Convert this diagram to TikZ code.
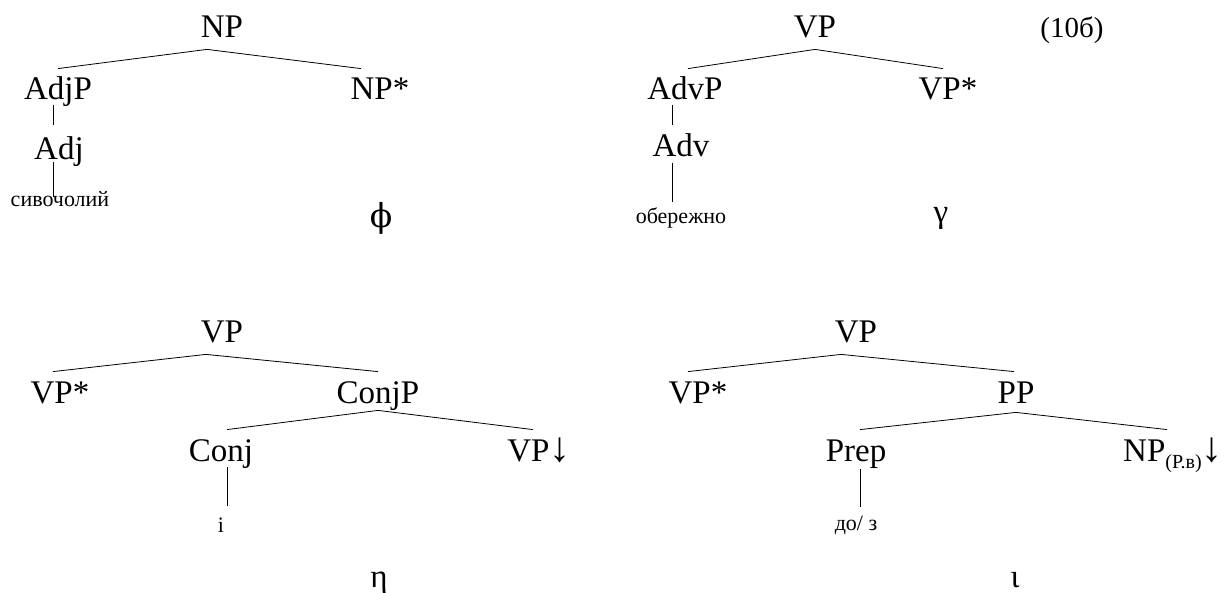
\documentclass[tikz,border=0pt]{standalone}
\usepackage{fontspec}
\setmainfont{Liberation Serif}
\newfontfamily\symserif{DejaVu Serif}
\usetikzlibrary{positioning}

\newcommand{\foot}{{\fontsize{42}{42}\selectfont ↓}}
\tikzset{
  cat/.style={anchor=base, inner sep=0pt, text height=31pt, text depth=11pt, font=\fontsize{33}{36}\selectfont},
  word/.style={anchor=base, inner sep=0pt, font=\fontsize{22}{24}\selectfont},
  greek/.style={inner sep=0pt, font=\fontsize{33}{36}\selectfont},
  exnum/.style={anchor=base, inner sep=0pt, font=\fontsize{29}{32}\selectfont},
}

\begin{document}
\begin{tikzpicture}[x=1pt, y=-1pt, line width=0.8pt]
\useasboundingbox (0,0) rectangle (1229,593);
% phi: NP adjunction
\node[cat] (np1)    at (222,38)  {NP};
\node[cat] (adjp)   at (58,100)  {AdjP};
\node[cat] (npstar) at (380,100) {NP*};
\node[cat] (adj)    at (59,160)  {Adj};
\node[word] (w1)    at (60,207)  {сивочолий};
\node[greek] (phi)  at (381,218) {\symserif ϕ};
\draw ([xshift=-15pt]np1.south) -- (adjp.north);
\draw ([xshift=-15pt]np1.south) -- ([xshift=-19pt]npstar.north);
\draw ([xshift=-5pt,yshift=-5pt]adjp.base) -- ([xshift=-6pt,yshift=35pt]adj.base);
\draw ([xshift=-6pt,yshift=-2pt]adj.base) -- ([xshift=-7pt,yshift=10pt]w1.base);
% gamma: VP adjunction
\node[exnum] (ex)    at (1072,38) {(10б)};
\node[cat] (vp2)     at (815,38)  {VP};
\node[cat] (advp)    at (685,100) {AdvP};
\node[cat] (vpstar2) at (948,100) {VP*};
\node[cat] (adv)     at (681,157) {Adv};
\node[word] (w2)     at (681,224) {обережно};
\node[greek] (gam)   at (941,218) {γ};
\draw (vp2.south) -- ([xshift=3pt]advp.north);
\draw (vp2.south) -- ([xshift=-5pt]vpstar2.north);
\draw ([xshift=-13pt,yshift=-5pt]advp.base) -- ([xshift=-9pt,yshift=32pt]adv.base);
\draw ([xshift=-9pt,yshift=-6pt]adv.base) -- ([xshift=-9pt,yshift=22pt]w2.base);
% eta: coordination
\node[cat] (vp3)     at (222,343) {VP};
\node[cat] (vpstar3) at (60,403)  {VP*};
\node[cat] (conjp)   at (378,403) {ConjP};
\node[cat] (conj)    at (221,461) {Conj};
\node[cat] (vpdown)  at (539,461) {VP\foot};
\node[word] (w3)     at (221,532) {і};
\node[greek] (eta)   at (379,583) {η};
\draw ([xshift=-16pt]vp3.south) -- ([xshift=-7pt]vpstar3.north);
\draw ([xshift=-16pt]vp3.south) -- (conjp.north);
\draw ([yshift=4pt]conjp.south) -- ([xshift=6pt]conj.north);
\draw ([yshift=4pt]conjp.south) -- ([xshift=-6pt]vpdown.north);
\draw ([xshift=6pt,yshift=-6pt]conj.base) -- ([xshift=6pt,yshift=26pt]w3.base);
% iota: prepositional phrase
\node[cat] (vp4)     at (856,343)  {VP};
\node[cat] (vpstar4) at (698,403)  {VP*};
\node[cat] (pp)      at (1016,403) {PP};
\node[cat] (prep)    at (856,461)  {Prep};
\node[cat] (npgen)   at (1173,461) {NP\raisebox{-7pt}{\fontsize{20}{22}\selectfont(Р.в)}\foot};
\node[word] (w4)     at (856,530)  {до/ з};
\node[greek] (iota)  at (1015,580) {ι};
\draw ([xshift=-15pt]vp4.south) -- ([xshift=-10pt]vpstar4.north);
\draw ([xshift=-15pt]vp4.south) -- ([xshift=-2pt]pp.north);
\draw ([yshift=2pt]pp.south) -- ([xshift=4pt]prep.north);
\draw ([yshift=2pt]pp.south) -- ([xshift=-6pt]npgen.north);
\draw ([xshift=4pt,yshift=-8pt]prep.base) -- ([xshift=4pt,yshift=23pt]w4.base);
\end{tikzpicture}
\end{document}
